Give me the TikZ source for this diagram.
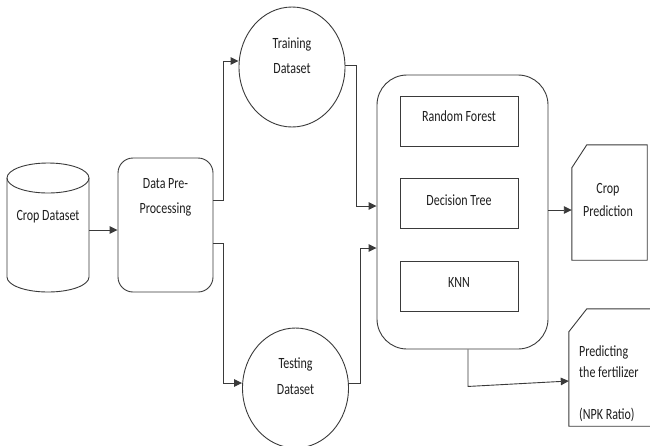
\documentclass[tikz,border=0pt]{standalone}
\usepackage{fontspec}
\usepackage{graphicx}
\setmainfont{Carlito}
\usetikzlibrary{arrows.meta,shapes.geometric}
\definecolor{lc}{HTML}{3A3A3A}
\definecolor{tc}{HTML}{1E1E1E}
\newcommand\vst[1]{\scalebox{1}[1.3]{#1}}
\tikzset{
  ln/.style={draw=lc, line width=0.9pt},
  arr/.style={ln, -{Triangle[length=8pt,width=7.5pt]}},
  txt/.style={font=\fontsize{12}{25}\selectfont, align=center, text=tc, inner sep=0pt},
  rbox/.style={ln, rectangle, inner sep=0pt},
  ell/.style={ln, ellipse, inner sep=0pt, minimum width=106pt, minimum height=120pt},
  ghost/.style={rectangle, inner sep=0pt}
}
\begin{document}
\begin{tikzpicture}[x=1pt,y=-1pt]
\useasboundingbox (0,0) rectangle (650,445);
\fill[white] (0,0) rectangle (650,445);

% cylinder
\node[ghost, minimum width=82pt, minimum height=129pt] (cyl) at (48,228) {};
\draw[ln] (48,178) ellipse [x radius=41pt, y radius=15pt];
\draw[ln] (7,178) -- (7,277) arc[start angle=180, end angle=360, x radius=41pt, y radius=15pt] -- (89,178);
\node[txt] (cyltxt) at (48,217) {\vst{Crop Dataset}};

% preprocessing
\node[rbox, rounded corners=15pt, minimum width=95pt, minimum height=134pt] (pre) at (165.5,225) {};
\node[txt] (pretxt) at (165.5,197.5) {\vst{Data Pre-}\\\vst{Processing}};

% training / testing
\node[ell] (train) at (292,67) {};
\node[txt] (traintxt) at (292,55.5) {\vst{Training}\\\vst{Dataset}};
\node[ell] (test) at (295.5,388) {};
\node[txt, font=\fontsize{12}{26}\selectfont] (testtxt) at (295.5,376) {\vst{Testing}\\\vst{Dataset}};

% big model box
\node[rbox, rounded corners=30pt, minimum width=171pt, minimum height=274pt] (big) at (462.5,212) {};
\node[rbox, minimum width=118pt, minimum height=50pt] (rf) at (459,121) {};
\node[txt] (rftxt) at (459,116) {\vst{Random Forest}};
\node[rbox, minimum width=118pt, minimum height=50pt] (dt) at (459,203) {};
\node[txt] (dttxt) at (459,200) {\vst{Decision Tree}};
\node[rbox, minimum width=118pt, minimum height=50pt] (knn) at (459,286) {};
\node[txt] (knntxt) at (459,282) {\vst{KNN}};

% crop prediction card
\node[ghost, minimum width=75pt, minimum height=115pt] (crop) at (609.5,202.5) {};
\draw[ln] (crop.south west) -- ([yshift=-23pt]crop.north west) -- ([xshift=15pt]crop.north west)
  -- (crop.north east) -- (crop.south east) -- cycle;
\node[txt, font=\fontsize{12}{23}\selectfont] (croptxt) at (608,199.5) {\vst{Crop}\\\vst{Prediction}};

% fertilizer card
\node[ghost, minimum width=86pt, minimum height=117pt] (fert) at (612,367.5) {};
\draw[ln] (fert.south west) -- ([yshift=-23pt]fert.north west) -- ([xshift=18pt]fert.north west)
  -- (fert.north east) -- (fert.south east) -- cycle;
\node[txt, align=left, anchor=west, font=\fontsize{12}{21}\selectfont] (ferttxt) at (579,383.5)
  {\vst{Predicting}\\\vst{the fertilizer}\\\mbox{}\\\vst{(NPK Ratio)}};

% connectors
\draw[arr] (cyl.east |- 0,230) -- (pre.west |- 0,230);
\draw[arr] ([yshift=25pt]pre.east) -- ++(9.5,0) |- ([yshift=6pt]train.west);
\draw[arr] ([yshift=-18pt]pre.east) -- ++(9.5,0) |- ([yshift=5pt]test.west);
\draw[arr] ([yshift=2pt]train.east) -- ++(11,0) |- (big.west |- 0,206);
\draw[arr] ([yshift=5pt]test.east) -- ++(11,0) |- (big.west |- 0,248);
\draw[arr] (big.east |- 0,210) -- (crop.west |- 0,210);
\draw[arr] ([xshift=5.5pt]big.south) -- ++(0,37) -- ([yshift=-13.5pt]fert.west);
\end{tikzpicture}
\end{document}
